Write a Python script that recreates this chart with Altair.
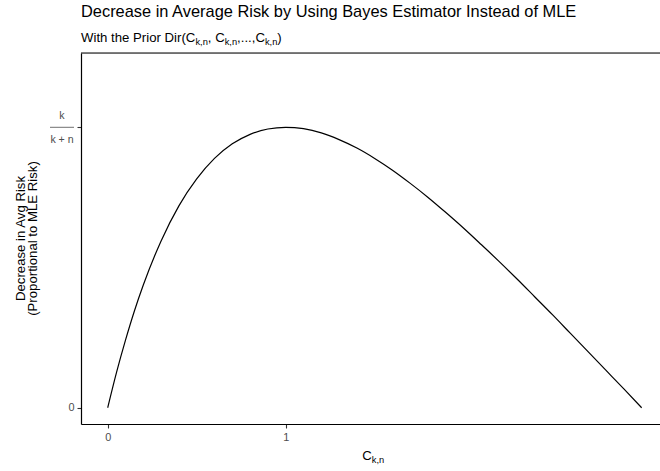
import altair as alt
import pandas as pd

# ---------------- data ----------------
c_values = [0.0, 0.05, 0.1, 0.15, 0.2, 0.3, 0.4, 0.5, 0.6, 0.7, 0.8, 0.9, 1.0,
            1.1, 1.2, 1.3, 1.4, 1.5, 1.6, 1.7, 1.8, 1.9, 2.0,
            2.1, 2.2, 2.3, 2.4, 2.5, 2.6, 2.7, 2.8, 2.9, 3.0]
decrease = [0.0, 0.127, 0.241, 0.345, 0.4375, 0.595, 0.720, 0.816, 0.889, 0.941, 0.975, 0.994, 1.0,
            0.995, 0.980, 0.956, 0.926, 0.889, 0.847, 0.800, 0.750, 0.696, 0.640,
            0.581, 0.521, 0.459, 0.395, 0.331, 0.265, 0.199, 0.133, 0.067, 0.0]
x_tick_values = [0, 1]
y_tick_values = [0, 1]

title_text = "Decrease in Average Risk by Using Bayes Estimator Instead of MLE"
subtitle_segments = ["With the Prior Dir(C", "k,n", ", C", "k,n", ",...,C", "k,n", ")"]
subtitle_is_sub = [False, True, False, True, False, True, False]
x_title_segments = ["C", "k,n"]
x_title_is_sub = [False, True]
y_title_lines = ["Decrease in Avg Risk", "(Proportional to MLE Risk)"]
frac_num = "k"
frac_den = "k + n"

# ---------------- layout / style ----------------
FONT = "Liberation Sans"
PLOT_W, PLOT_H = 579, 371
PAD = {"left": 81, "top": 53, "right": 0, "bottom": 47}
X_DOMAIN = [-0.15, 3.103]
Y_DOMAIN = [-0.058, 1.265]
TITLE_SIZE = 16.4
MAIN_SIZE = 13.2
SUB_SIZE = 9.3
SUB_SHIFT = 3.0
TICK_LABEL_SIZE = 10.9
FRAC_SIZE = 10.6
GRAY_LABEL = "#4D4D4D"
GRAY_TICK = "#333333"

ADV = {' ': 278, ',': 278, '.': 278, '(': 333, ')': 333, 'C': 722, 'D': 722,
       'P': 667, 'W': 944, 'h': 556, 'e': 556, 'i': 222, 't': 278, 'r': 333,
       'o': 556, 'k': 500, 'n': 556, '+': 584}


def text_width(s, size):
    return sum(ADV.get(ch, 556) for ch in s) / 1000.0 * size


def text_layer(s, x, y, size, align="left", angle=None, color="black", baseline="alphabetic"):
    mk = dict(align=align, baseline=baseline, font=FONT, fontSize=size, color=color)
    if angle is not None:
        mk["angle"] = angle
    return alt.Chart(pd.DataFrame({"t": [s]})).mark_text(**mk).encode(
        text="t:N", x=alt.value(x), y=alt.value(y))


df = pd.DataFrame({"C": c_values, "D": decrease})

axis_common = dict(
    title=None, grid=False, domainColor="black", domainWidth=1.2,
    tickColor=GRAY_TICK, tickSize=4, tickWidth=1.1,
    labelColor=GRAY_LABEL, labelFontSize=TICK_LABEL_SIZE, labelFont=FONT,
    labelPadding=3, labelFlush=False, labelOverlap=False, labelBound=False,
)

line = alt.Chart(df).mark_line(color="black", strokeWidth=1.2, interpolate="monotone").encode(
    x=alt.X("C:Q", scale=alt.Scale(domain=X_DOMAIN, nice=False, zero=False),
            axis=alt.Axis(values=x_tick_values, format="d", **axis_common)),
    y=alt.Y("D:Q", scale=alt.Scale(domain=Y_DOMAIN, nice=False, zero=False),
            axis=alt.Axis(values=y_tick_values, labelExpr="datum.value == 0 ? '0' : ''", **axis_common)),
)

layers = [line]

# top border line
layers.append(
    alt.Chart(pd.DataFrame({"v": [0]})).mark_rule(color="black", strokeWidth=1.2).encode(
        x=alt.value(0), x2=alt.value(PLOT_W), y=alt.value(0))
)

# title
layers.append(text_layer(title_text, 0, -36, TITLE_SIZE))

# subtitle with subscripts
cx = 0.0
for seg, is_sub in zip(subtitle_segments, subtitle_is_sub):
    size = SUB_SIZE if is_sub else MAIN_SIZE
    y = -11.5 + (SUB_SHIFT if is_sub else 0)
    layers.append(text_layer(seg, cx, y, size))
    cx += text_width(seg, size)

# x-axis title C_{k,n}, centred under panel
total_w = sum(text_width(s, SUB_SIZE if sb else MAIN_SIZE) for s, sb in zip(x_title_segments, x_title_is_sub))
cx = (PLOT_W + 8.4) / 2 - total_w / 2 - 1.5
for seg, is_sub in zip(x_title_segments, x_title_is_sub):
    size = SUB_SIZE if is_sub else MAIN_SIZE
    y = PLOT_H + 35.5 + (SUB_SHIFT if is_sub else 0)
    layers.append(text_layer(seg, cx, y, size))
    cx += text_width(seg, size)

# y-axis title (two lines, rotated)
layers.append(text_layer(y_title_lines[0], -56.5, PLOT_H / 2, MAIN_SIZE, align="center", angle=270))
layers.append(text_layer(y_title_lines[1], -44.5, PLOT_H / 2, MAIN_SIZE, align="center", angle=270))

# fraction label k/(k+n) at the y tick for value 1
y_one = (Y_DOMAIN[1] - 1) / (Y_DOMAIN[1] - Y_DOMAIN[0]) * PLOT_H
layers.append(text_layer(frac_num, -19, y_one - 8.5, FRAC_SIZE, align="center", color=GRAY_LABEL))
layers.append(text_layer(frac_den, -19, y_one + 15.5, FRAC_SIZE, align="center", color=GRAY_LABEL))
layers.append(
    alt.Chart(pd.DataFrame({"v": [1]})).mark_rule(color=GRAY_LABEL, strokeWidth=0.8).encode(
        x=alt.value(-31), x2=alt.value(-7), y=alt.value(y_one))
)

chart = alt.layer(*layers).properties(
    width=PLOT_W, height=PLOT_H, padding=PAD,
    autosize=alt.AutoSizeParams(type="none"),
).configure_view(stroke="transparent").configure(font=FONT, background="white")

chart.save("out.html", embed_options={"renderer": "svg", "actions": False})
